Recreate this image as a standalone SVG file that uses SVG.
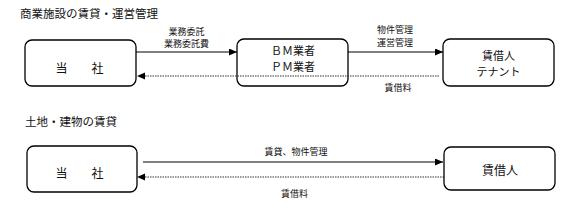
<svg xmlns="http://www.w3.org/2000/svg" width="577" height="208" viewBox="0 0 577 208">
<style>
text{font-family:"Noto Sans CJK JP","Noto Sans CJK SC",sans-serif;fill:#111;dominant-baseline:central}
.t{font-size:11.5px}
.b{font-size:12px;text-anchor:middle}
.s{font-size:11px;text-anchor:middle}
.l{font-size:9px;text-anchor:middle}
.box{fill:#fff;stroke:#000;stroke-width:1.3}
.solid{stroke:#000;stroke-width:1.1;fill:none}
.dash{stroke:#333;stroke-width:1;stroke-dasharray:1.5 1;fill:none}
</style>
<defs>
<marker id="ah" markerUnits="userSpaceOnUse" markerWidth="8" markerHeight="7" refX="8" refY="3.5" orient="auto">
<path d="M0,0 L8,3.5 L0,7 Z" fill="#000"/>
</marker>
</defs>
<text class="t" x="20" y="12.5">商業施設の賃貸・運営管理</text>
<text class="t" x="25" y="120.5">土地・建物の賃貸</text>
<g id="conn">
<line class="solid" x1="136" y1="52" x2="237" y2="52" marker-end="url(#ah)"/>
<line class="solid" x1="348" y1="52" x2="443" y2="52" marker-end="url(#ah)"/>
<line class="solid" x1="143" y1="162" x2="443" y2="162" marker-end="url(#ah)"/>
<line class="dash" x1="140" y1="177" x2="444" y2="177"/>
<path d="M137,177 L145,173.5 L145,180.5 Z" fill="#000"/>
</g>
<g id="n1"><rect class="box" x="25" y="40" width="111" height="46" rx="7"/><text class="b" x="79.5" y="67">当　　社</text></g>
<g id="n2"><rect class="box" x="237" y="39" width="111" height="47" rx="7"/><text class="s" x="293" y="49.5">ＢＭ業者</text><text class="s" x="293" y="65.5">ＰＭ業者</text></g>
<g id="n3"><rect class="box" x="443" y="39" width="111" height="47" rx="7"/><text class="s" x="498.5" y="54.5">賃借人</text><text class="s" x="498.5" y="70.5">テナント</text></g>
<g id="n4"><rect class="box" x="27" y="146" width="110" height="46" rx="7"/><text class="b" x="79.5" y="172">当　　社</text></g>
<g id="n5"><rect class="box" x="444" y="147" width="111" height="43" rx="7"/><text class="b" x="500" y="169">賃借人</text></g>
<g id="conn2">
<line class="dash" x1="140" y1="76" x2="439" y2="76"/>
<path d="M137,76 L145,72.5 L145,79.5 Z" fill="#000"/>
</g>
<g id="labels">
<text class="l" x="186.5" y="31">業務委託</text>
<text class="l" x="186.5" y="43.5">業務委託費</text>
<text class="l" x="395" y="29.5">物件管理</text>
<text class="l" x="395" y="42">運営管理</text>
<text class="l" x="398" y="87">賃借料</text>
<text class="l" x="296" y="151">賃貸、物件管理</text>
<text class="l" x="294.5" y="193.5">賃借料</text>
</g>
</svg>
